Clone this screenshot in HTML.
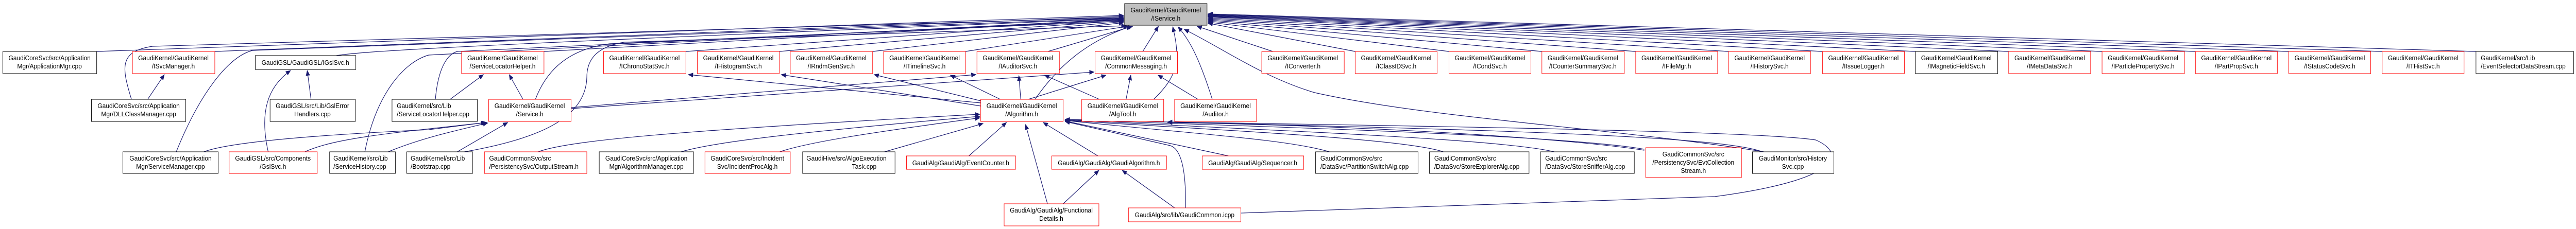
<!DOCTYPE html>
<html><head><meta charset="utf-8"><style>
html,body{margin:0;padding:0;background:#fff;width:100%;height:100%;overflow:hidden}
svg{display:block;width:100%;height:100%}
text{font-family:"Liberation Sans",Arial,sans-serif;font-size:13px;fill:#000}
.e{fill:none;stroke:#191970;stroke-width:1.2;marker-end:url(#a)}
.r{fill:#fff;stroke:#ff0000;stroke-width:1}
.b{fill:#fff;stroke:#000;stroke-width:1}
</style></head><body>
<svg viewBox="0 0 5408 445" preserveAspectRatio="none" xmlns="http://www.w3.org/2000/svg">
<defs><marker id="a" markerUnits="userSpaceOnUse" markerWidth="11" markerHeight="9" refX="10" refY="4.5" orient="auto"><path d="M0,0 L11,4.5 L0,9 z" fill="#191970"/></marker></defs>

<path class="e" d="M203,100 L2359,30"/>
<path class="e" d="M451,100 L2359,32"/>
<path class="e" d="M706,108 C760,100 900,90 2359,36"/>
<path class="e" d="M1142,100 L2359,38"/>
<path class="e" d="M1440,100 L2359,40"/>
<path class="e" d="M1636,100 L2359,42"/>
<path class="e" d="M1832,100 L2359,44"/>
<path class="e" d="M2027,100 L2368,51"/>
<path class="e" d="M2200,100 L2378,51"/>
<path class="e" d="M276,193 C255,130 250,100 320,90 L2359,34"/>
<path class="e" d="M370,295 C420,180 480,110 530,98 L2359,35"/>
<path class="e" d="M766,295 C790,180 850,120 900,107 L2359,37"/>
<path class="e" d="M914,193 C920,130 940,105 960,100 L2359,39"/>
<path class="e" d="M1124,193 C1150,130 1200,95 1280,85 L2359,41"/>
<path class="e" d="M975,295 C1130,270 1230,230 1232,150 C1232,110 1260,90 1310,82 L2364,50"/>
<path class="e" d="M2173,193 C2220,130 2280,80 2375,51"/>
<path class="e" d="M2399,100 L2432,51"/>
<path class="e" d="M2422,193 C2470,150 2480,120 2462,52"/>
<path class="e" d="M2545,193 C2520,120 2500,80 2473,52"/>
<path class="e" d="M2672,100 L2513,51"/>
<path class="e" d="M2845,100 L2536,45"/>
<path class="e" d="M3042,100 L2536,43"/>
<path class="e" d="M3237,100 L2536,41"/>
<path class="e" d="M3434,100 L2536,39"/>
<path class="e" d="M3629,100 L2536,37"/>
<path class="e" d="M3826,100 L2536,35"/>
<path class="e" d="M4021,100 L2536,33"/>
<path class="e" d="M4217,100 L2536,32"/>
<path class="e" d="M4413,100 L2536,31"/>
<path class="e" d="M4609,100 L2536,30"/>
<path class="e" d="M4805,100 L2536,29"/>
<path class="e" d="M5001,100 L2536,28"/>
<path class="e" d="M5198,100 L2536,27"/>
<path class="e" d="M3703,295 C3400,250 3000,230 2760,180 C2650,150 2560,90 2486,57"/>
<path class="e" d="M310,193 L345,145"/>
<path class="e" d="M653,193 L645,137"/>
<path class="e" d="M563,295 C545,220 560,170 610,137"/>
<path class="e" d="M945,193 L1015,145"/>
<path class="e" d="M1098,193 L1069,145"/>
<path class="e" d="M1199,211 L2297,140"/>
<path class="e" d="M1199,209 L2049,145"/>
<path class="e" d="M428,295 C470,280 600,265 900,252 L1020,238"/>
<path class="e" d="M640,295 C700,270 800,260 1022,238"/>
<path class="e" d="M815,295 C880,270 950,255 1024,239"/>
<path class="e" d="M960,295 L1066,238"/>
<path class="e" d="M2059,200 L1445,145"/>
<path class="e" d="M2059,206 L1640,145"/>
<path class="e" d="M2059,196 L1835,145"/>
<path class="e" d="M2100,193 L1995,146"/>
<path class="e" d="M2143,193 L2139,147"/>
<path class="e" d="M2159,193 L2322,146"/>
<path class="e" d="M2308,193 L2193,146"/>
<path class="e" d="M2364,193 L2374,146"/>
<path class="e" d="M2515,193 L2431,146"/>
<path class="e" d="M1130,295 C1200,270 1500,250 2057,222"/>
<path class="e" d="M1430,295 C1500,275 1700,255 2057,226"/>
<path class="e" d="M1637,295 C1700,275 1850,255 2057,229"/>
<path class="e" d="M1857,295 L2064,240"/>
<path class="e" d="M2034,303 L2113,238"/>
<path class="e" d="M2199,396 L2153,242"/>
<path class="e" d="M2305,303 L2190,238"/>
<path class="e" d="M2232,396 L2307,331"/>
<path class="e" d="M2466,404 L2356,331"/>
<path class="e" d="M2489,404 C2490,330 2480,290 2457,283 L2236,236"/>
<path class="e" d="M2579,303 L2236,235"/>
<path class="e" d="M2791,295 C2700,270 2500,260 2236,234"/>
<path class="e" d="M3030,295 C2950,270 2600,255 2236,234"/>
<path class="e" d="M3263,295 C3150,270 2700,255 2236,233"/>
<path class="e" d="M3452,290 C3300,265 2800,250 2236,233"/>
<path class="e" d="M3700,295 C3600,260 3000,250 2236,232"/>
<path class="e" d="M3452,292 C3300,270 2900,245 2451,238"/>
<path class="e" d="M2605,414 L3600,382 C3860,350 3880,300 3812,272 C3700,255 3000,245 2451,237"/>

<rect x="2361" y="7" width="173" height="42" fill="#bfbfbf" stroke="#000"/>
<text x="2447.5" y="24" text-anchor="middle">GaudiKernel/GaudiKernel</text><text x="2447.5" y="40" text-anchor="middle">/IService.h</text>

<g text-anchor="middle">
<rect class="b" x="6" y="100" width="197" height="43"/><text x="104" y="117">GaudiCoreSvc/src/Application</text><text x="104" y="133">Mgr/ApplicationMgr.cpp</text>
<rect class="r" x="278" y="100" width="173" height="43"/><text x="364" y="117">GaudiKernel/GaudiKernel</text><text x="364" y="133">/ISvcManager.h</text>
<rect class="b" x="536" y="108" width="211" height="27"/><text x="641" y="126">GaudiGSL/GaudiGSL/IGslSvc.h</text>
<rect class="r" x="969" y="100" width="173" height="43"/><text x="1055" y="117">GaudiKernel/GaudiKernel</text><text x="1055" y="133">/ServiceLocatorHelper.h</text>
<rect class="r" x="1267" y="100" width="173" height="43"/><text x="1353" y="117">GaudiKernel/GaudiKernel</text><text x="1353" y="133">/IChronoStatSvc.h</text>
<rect class="r" x="1464" y="100" width="172" height="43"/><text x="1550" y="117">GaudiKernel/GaudiKernel</text><text x="1550" y="133">/IHistogramSvc.h</text>
<rect class="r" x="1659" y="100" width="173" height="43"/><text x="1745" y="117">GaudiKernel/GaudiKernel</text><text x="1745" y="133">/IRndmGenSvc.h</text>
<rect class="r" x="1855" y="100" width="172" height="43"/><text x="1941" y="117">GaudiKernel/GaudiKernel</text><text x="1941" y="133">/ITimelineSvc.h</text>
<rect class="r" x="2051" y="100" width="173" height="43"/><text x="2137" y="117">GaudiKernel/GaudiKernel</text><text x="2137" y="133">/IAuditorSvc.h</text>
<rect class="r" x="2299" y="100" width="173" height="43"/><text x="2385" y="117">GaudiKernel/GaudiKernel</text><text x="2385" y="133">/CommonMessaging.h</text>
<rect class="r" x="2649" y="100" width="173" height="43"/><text x="2735" y="117">GaudiKernel/GaudiKernel</text><text x="2735" y="133">/IConverter.h</text>
<rect class="r" x="2845" y="100" width="172" height="43"/><text x="2931" y="117">GaudiKernel/GaudiKernel</text><text x="2931" y="133">/IClassIDSvc.h</text>
<rect class="r" x="3042" y="100" width="172" height="43"/><text x="3128" y="117">GaudiKernel/GaudiKernel</text><text x="3128" y="133">/ICondSvc.h</text>
<rect class="r" x="3237" y="100" width="173" height="43"/><text x="3323" y="117">GaudiKernel/GaudiKernel</text><text x="3323" y="133">/ICounterSummarySvc.h</text>
<rect class="r" x="3434" y="100" width="172" height="43"/><text x="3520" y="117">GaudiKernel/GaudiKernel</text><text x="3520" y="133">/IFileMgr.h</text>
<rect class="r" x="3629" y="100" width="172" height="43"/><text x="3715" y="117">GaudiKernel/GaudiKernel</text><text x="3715" y="133">/IHistorySvc.h</text>
<rect class="r" x="3826" y="100" width="172" height="43"/><text x="3912" y="117">GaudiKernel/GaudiKernel</text><text x="3912" y="133">/IIssueLogger.h</text>
<rect class="b" x="4021" y="100" width="173" height="43"/><text x="4107" y="117">GaudiKernel/GaudiKernel</text><text x="4107" y="133">/IMagneticFieldSvc.h</text>
<rect class="r" x="4217" y="100" width="172" height="43"/><text x="4303" y="117">GaudiKernel/GaudiKernel</text><text x="4303" y="133">/IMetaDataSvc.h</text>
<rect class="r" x="4413" y="100" width="173" height="43"/><text x="4499" y="117">GaudiKernel/GaudiKernel</text><text x="4499" y="133">/IParticlePropertySvc.h</text>
<rect class="r" x="4609" y="100" width="172" height="43"/><text x="4695" y="117">GaudiKernel/GaudiKernel</text><text x="4695" y="133">/IPartPropSvc.h</text>
<rect class="r" x="4805" y="100" width="172" height="43"/><text x="4891" y="117">GaudiKernel/GaudiKernel</text><text x="4891" y="133">/IStatusCodeSvc.h</text>
<rect class="r" x="5001" y="100" width="172" height="43"/><text x="5087" y="117">GaudiKernel/GaudiKernel</text><text x="5087" y="133">/ITHistSvc.h</text>

<rect class="b" x="192" y="193" width="198" height="43"/><text x="291" y="210">GaudiCoreSvc/src/Application</text><text x="291" y="226">Mgr/DLLClassManager.cpp</text>
<rect class="b" x="567" y="193" width="179" height="43"/><text x="656" y="210">GaudiGSL/src/Lib/GslError</text><text x="656" y="226">Handlers.cpp</text>
<rect class="r" x="1026" y="193" width="173" height="43"/><text x="1112" y="210">GaudiKernel/GaudiKernel</text><text x="1112" y="226">/Service.h</text>
<rect class="r" x="2059" y="193" width="173" height="43"/><text x="2145" y="210">GaudiKernel/GaudiKernel</text><text x="2145" y="226">/Algorithm.h</text>
<rect class="r" x="2271" y="193" width="172" height="43"/><text x="2357" y="210">GaudiKernel/GaudiKernel</text><text x="2357" y="226">/AlgTool.h</text>
<rect class="r" x="2466" y="193" width="172" height="43"/><text x="2552" y="210">GaudiKernel/GaudiKernel</text><text x="2552" y="226">/Auditor.h</text>

<rect class="b" x="258" y="295" width="200" height="42"/><text x="358" y="312">GaudiCoreSvc/src/Application</text><text x="358" y="328">Mgr/ServiceManager.cpp</text>
<rect class="r" x="481" y="295" width="185" height="42"/><text x="573" y="312">GaudiGSL/src/Components</text><text x="573" y="328">/GslSvc.h</text>
<rect class="b" x="1258" y="295" width="198" height="42"/><text x="1357" y="312">GaudiCoreSvc/src/Application</text><text x="1357" y="328">Mgr/AlgorithmManager.cpp</text>
<rect class="r" x="1480" y="295" width="179" height="42"/><text x="1569" y="312">GaudiCoreSvc/src/Incident</text><text x="1569" y="328">Svc/IncidentProcAlg.h</text>
<rect class="r" x="1903" y="303" width="229" height="26"/><text x="2017" y="321">GaudiAlg/GaudiAlg/EventCounter.h</text>
<rect class="r" x="2208" y="303" width="241" height="26"/><text x="2328" y="321">GaudiAlg/GaudiAlg/GaudiAlgorithm.h</text>
<rect class="r" x="2524" y="303" width="213" height="26"/><text x="2630" y="321">GaudiAlg/GaudiAlg/Sequencer.h</text>
<rect class="r" x="3455" y="287" width="201" height="58"/><text x="3555" y="304">GaudiCommonSvc/src</text><text x="3555" y="320">/PersistencySvc/EvtCollection</text><text x="3555" y="336">Stream.h</text>
<rect class="b" x="3679" y="295" width="171" height="42"/><text x="3764" y="312">GaudiMonitor/src/History</text><text x="3764" y="328">Svc.cpp</text>
<rect class="r" x="2108" y="396" width="199" height="43"/><text x="2207" y="413">GaudiAlg/GaudiAlg/Functional</text><text x="2207" y="429">Details.h</text>
<rect class="r" x="2369" y="404" width="236" height="27"/><text x="2487" y="422">GaudiAlg/src/lib/GaudiCommon.icpp</text>
</g>
<g>
<rect class="b" x="5198" y="100" width="205" height="43"/><text x="5208" y="117">GaudiKernel/src/Lib</text><text x="5208" y="133">/EventSelectorDataStream.cpp</text>
<rect class="b" x="823" y="193" width="179" height="43"/><text x="833" y="210">GaudiKernel/src/Lib</text><text x="833" y="226">/ServiceLocatorHelper.cpp</text>
<rect class="b" x="692" y="295" width="138" height="42"/><text x="700" y="312">GaudiKernel/src/Lib</text><text x="700" y="328">/ServiceHistory.cpp</text>
<rect class="b" x="854" y="295" width="138" height="42"/><text x="862" y="312">GaudiKernel/src/Lib</text><text x="862" y="328">/Bootstrap.cpp</text>
<rect class="r" x="1017" y="295" width="215" height="42"/><text x="1027" y="312">GaudiCommonSvc/src</text><text x="1027" y="328">/PersistencySvc/OutputStream.h</text>
<rect class="b" x="1685" y="295" width="194" height="42"/><text x="1693" y="312">GaudiHive/src/AlgoExecution</text><text x="1840" y="328" text-anchor="end">Task.cpp</text>
<rect class="b" x="2762" y="295" width="215" height="42"/><text x="2772" y="312">GaudiCommonSvc/src</text><text x="2772" y="328">/DataSvc/PartitionSwitchAlg.cpp</text>
<rect class="b" x="3001" y="295" width="209" height="42"/><text x="3011" y="312">GaudiCommonSvc/src</text><text x="3011" y="328">/DataSvc/StoreExplorerAlg.cpp</text>
<rect class="b" x="3234" y="295" width="197" height="42"/><text x="3244" y="312">GaudiCommonSvc/src</text><text x="3244" y="328">/DataSvc/StoreSnifferAlg.cpp</text>
</g>
</svg>
</body></html>
